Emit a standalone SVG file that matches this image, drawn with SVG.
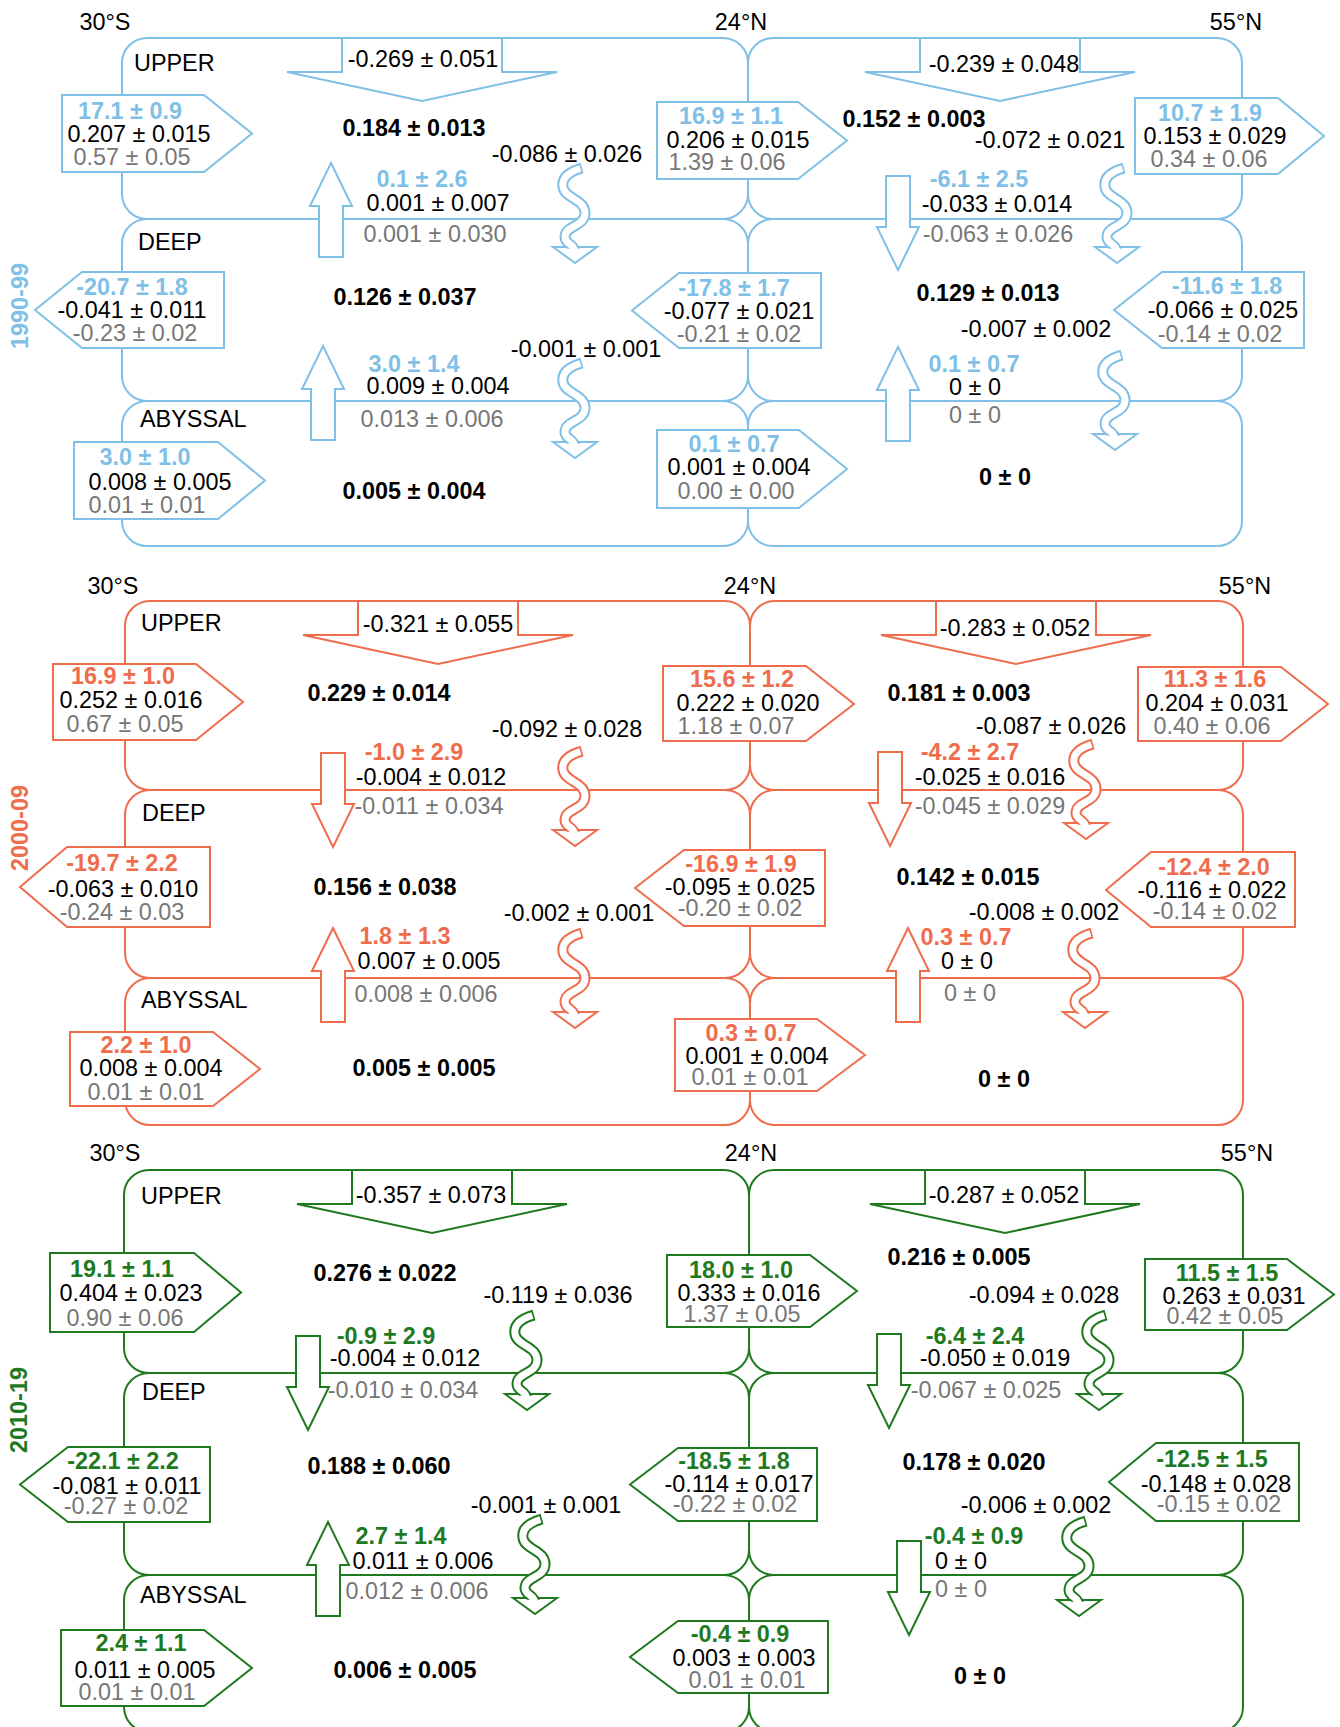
<svg xmlns="http://www.w3.org/2000/svg" xmlns:xlink="http://www.w3.org/1999/xlink" width="1340" height="1727" viewBox="0 0 1340 1727">
<style>
text{font-family:"Liberation Sans",Arial,Helvetica,sans-serif;font-size:23.4px;text-anchor:middle;fill:#000}
.l{text-anchor:start}
.b{font-weight:bold}
.g{fill:#777}
.k{fill:currentColor;font-weight:bold}
.p1{color:#80bfe6}
.p2{color:#ef6c4d}
.p3{color:#1f7a1f}
.cell{fill:none;stroke:currentColor;stroke-width:2}
.sh{fill:#fff;stroke:currentColor;stroke-width:2;stroke-linejoin:miter}
</style>
<defs>
<g id="sq">
<polygon points="-22,80 0,96 22,80" fill="#fff" stroke="currentColor" stroke-width="2"/>
<path d="M7,1 C0,3 -14,8 -12,20 C-10,32 10,32 10,46 C10,60 -10,58 -10,70 C-10,78 0,76 0,86" fill="none" stroke="currentColor" stroke-width="11"/>
<path d="M7,1 C0,3 -14,8 -12,20 C-10,32 10,32 10,46 C10,60 -10,58 -10,70 C-10,78 0,76 0,86" fill="none" stroke="#fff" stroke-width="7" pathLength="100" stroke-dasharray="0 1.6 200"/>
<polygon points="-17,81.8 0,93.6 17,81.8" fill="#fff"/>
</g>
<polygon id="au" points="0,0 21,43 12,43 12,94 -12,94 -12,43 -21,43" fill="#fff" stroke="currentColor" stroke-width="2"/>
<polygon id="ad" points="0,0 21,-43 12,-43 12,-94 -12,-94 -12,-43 -21,-43" fill="#fff" stroke="currentColor" stroke-width="2"/>
<polygon id="big" points="-80,0 -80,34 -135,34 0,63 135,34 80,34 80,0" fill="#fff" stroke="currentColor" stroke-width="2"/>
</defs>
<rect width="1340" height="1727" fill="#fff"/>

<!-- ================= PANEL 1 : 1990-99 ================= -->
<g id="panel1" class="p1">
<g id="p1-cells">
<rect class="cell" x="122" y="38" width="626" height="181" rx="25"/>
<rect class="cell" x="748" y="38" width="494" height="181" rx="25"/>
<rect class="cell" x="122" y="219" width="626" height="182" rx="25"/>
<rect class="cell" x="748" y="219" width="494" height="182" rx="25"/>
<rect class="cell" x="122" y="401" width="626" height="145" rx="25"/>
<rect class="cell" x="748" y="401" width="494" height="145" rx="25"/>
</g>
<g id="p1-labels">
<text x="105" y="30">30°S</text>
<text x="741" y="30">24°N</text>
<text x="1236" y="30">55°N</text>
<text class="l" x="134" y="71">UPPER</text>
<text class="l" x="138" y="250">DEEP</text>
<text class="l" x="140" y="427">ABYSSAL</text>
<text class="k" transform="translate(28,306) rotate(-90)">1990-99</text>
<text class="b" x="414" y="136">0.184 ± 0.013</text>
<text class="b" x="914" y="127">0.152 ± 0.003</text>
<text class="b" x="405" y="305">0.126 ± 0.037</text>
<text class="b" x="988" y="301">0.129 ± 0.013</text>
<text class="b" x="414" y="499">0.005 ± 0.004</text>
<text class="b" x="1005" y="485">0 ± 0</text>
</g>
<g id="p1-connectors">
<use xlink:href="#big" x="422" y="38"/>
<use xlink:href="#big" x="1000" y="38"/>
<use xlink:href="#au" x="331" y="163"/>
<use xlink:href="#ad" x="898" y="270"/>
<use xlink:href="#au" x="323" y="346"/>
<use xlink:href="#au" x="898" y="347"/>
<use xlink:href="#sq" x="575" y="167"/>
<use xlink:href="#sq" x="1117" y="167"/>
<use xlink:href="#sq" x="575" y="362"/>
<use xlink:href="#sq" x="1115" y="354"/>
<text x="423" y="67">-0.269 ± 0.051</text>
<text x="1004" y="72">-0.239 ± 0.048</text>
<text x="567" y="162">-0.086 ± 0.026</text>
<text x="1050" y="148">-0.072 ± 0.021</text>
<text x="586" y="357">-0.001 ± 0.001</text>
<text x="1036" y="337">-0.007 ± 0.002</text>
<text class="k" x="422" y="187">0.1 ± 2.6</text>
<text x="438" y="211">0.001 ± 0.007</text>
<text class="g" x="435" y="242">0.001 ± 0.030</text>
<text class="k" x="979" y="187">-6.1 ± 2.5</text>
<text x="997" y="212">-0.033 ± 0.014</text>
<text class="g" x="998" y="242">-0.063 ± 0.026</text>
<text class="k" x="414" y="372">3.0 ± 1.4</text>
<text x="438" y="394">0.009 ± 0.004</text>
<text class="g" x="432" y="427">0.013 ± 0.006</text>
<text class="k" x="974" y="372">0.1 ± 0.7</text>
<text x="975" y="395">0 ± 0</text>
<text class="g" x="975" y="423">0 ± 0</text>
</g>
<g id="p1-n1"><polygon class="sh" points="62,95 204,95 252,133.5 204,172 62,172"/>
<text class="k" x="130" y="119">17.1 ± 0.9</text><text x="139" y="142">0.207 ± 0.015</text><text class="g" x="132" y="165">0.57 ± 0.05</text></g>
<g id="p1-n2"><polygon class="sh" points="657,102 798,102 847,140.5 798,179 657,179"/>
<text class="k" x="731" y="124">16.9 ± 1.1</text><text x="738" y="148">0.206 ± 0.015</text><text class="g" x="727" y="170">1.39 ± 0.06</text></g>
<g id="p1-n3"><polygon class="sh" points="1135,98 1278,98 1324,136 1278,174 1135,174"/>
<text class="k" x="1210" y="121">10.7 ± 1.9</text><text x="1215" y="144">0.153 ± 0.029</text><text class="g" x="1209" y="167">0.34 ± 0.06</text></g>
<g id="p1-n4"><polygon class="sh" points="224,272 82,272 35,310 82,348 224,348"/>
<text class="k" x="132" y="295">-20.7 ± 1.8</text><text x="132" y="318">-0.041 ± 0.011</text><text class="g" x="135" y="341">-0.23 ± 0.02</text></g>
<g id="p1-n5"><polygon class="sh" points="821,273 679,273 632,310.5 679,348 821,348"/>
<text class="k" x="734" y="296">-17.8 ± 1.7</text><text x="739" y="319">-0.077 ± 0.021</text><text class="g" x="739" y="342">-0.21 ± 0.02</text></g>
<g id="p1-n6"><polygon class="sh" points="1304,272 1162,272 1114,310 1162,348 1304,348"/>
<text class="k" x="1227" y="294">-11.6 ± 1.8</text><text x="1223" y="318">-0.066 ± 0.025</text><text class="g" x="1220" y="342">-0.14 ± 0.02</text></g>
<g id="p1-n7"><polygon class="sh" points="74,442 218,442 265,480.5 218,519 74,519"/>
<text class="k" x="145" y="465">3.0 ± 1.0</text><text x="160" y="490">0.008 ± 0.005</text><text class="g" x="147" y="513">0.01 ± 0.01</text></g>
<g id="p1-n8"><polygon class="sh" points="657,430 799,430 847,469 799,508 657,508"/>
<text class="k" x="734" y="452">0.1 ± 0.7</text><text x="739" y="475">0.001 ± 0.004</text><text class="g" x="736" y="499">0.00 ± 0.00</text></g>
</g>

<!-- ================= PANEL 2 : 2000-09 ================= -->
<g id="panel2" class="p2">
<g id="p2-cells">
<rect class="cell" x="125" y="601" width="625" height="189" rx="25"/>
<rect class="cell" x="750" y="601" width="493" height="189" rx="25"/>
<rect class="cell" x="125" y="790" width="625" height="188" rx="25"/>
<rect class="cell" x="750" y="790" width="493" height="188" rx="25"/>
<rect class="cell" x="125" y="978" width="625" height="147" rx="25"/>
<rect class="cell" x="750" y="978" width="493" height="147" rx="25"/>
</g>
<g id="p2-labels">
<text x="113" y="594">30°S</text>
<text x="750" y="594">24°N</text>
<text x="1245" y="594">55°N</text>
<text class="l" x="141" y="631">UPPER</text>
<text class="l" x="142" y="821">DEEP</text>
<text class="l" x="141" y="1008">ABYSSAL</text>
<text class="k" transform="translate(28,828) rotate(-90)">2000-09</text>
<text class="b" x="379" y="701">0.229 ± 0.014</text>
<text class="b" x="959" y="701">0.181 ± 0.003</text>
<text class="b" x="385" y="895">0.156 ± 0.038</text>
<text class="b" x="968" y="885">0.142 ± 0.015</text>
<text class="b" x="424" y="1076">0.005 ± 0.005</text>
<text class="b" x="1004" y="1087">0 ± 0</text>
</g>
<g id="p2-connectors">
<use xlink:href="#big" x="438" y="601"/>
<use xlink:href="#big" x="1016" y="601"/>
<use xlink:href="#ad" x="333" y="847"/>
<use xlink:href="#au" x="333" y="928"/>
<use xlink:href="#ad" x="890" y="846"/>
<use xlink:href="#au" x="908" y="928"/>
<use xlink:href="#sq" x="575" y="750"/>
<use xlink:href="#sq" x="1086" y="743"/>
<use xlink:href="#sq" x="575" y="932"/>
<use xlink:href="#sq" x="1085" y="932"/>
<text x="438" y="632">-0.321 ± 0.055</text>
<text x="1015" y="636">-0.283 ± 0.052</text>
<text x="567" y="737">-0.092 ± 0.028</text>
<text x="1051" y="734">-0.087 ± 0.026</text>
<text x="579" y="921">-0.002 ± 0.001</text>
<text x="1044" y="920">-0.008 ± 0.002</text>
<text class="k" x="414" y="760">-1.0 ± 2.9</text>
<text x="431" y="785">-0.004 ± 0.012</text>
<text class="g" x="429" y="814">-0.011 ± 0.034</text>
<text class="k" x="405" y="944">1.8 ± 1.3</text>
<text x="429" y="969">0.007 ± 0.005</text>
<text class="g" x="426" y="1002">0.008 ± 0.006</text>
<text class="k" x="970" y="760">-4.2 ± 2.7</text>
<text x="990" y="785">-0.025 ± 0.016</text>
<text class="g" x="990" y="814">-0.045 ± 0.029</text>
<text class="k" x="966" y="945">0.3 ± 0.7</text>
<text x="967" y="969">0 ± 0</text>
<text class="g" x="970" y="1001">0 ± 0</text>
</g>
<g id="p2-n1"><polygon class="sh" points="53,664 196,664 243,702 196,740 53,740"/>
<text class="k" x="123" y="684">16.9 ± 1.0</text><text x="131" y="708">0.252 ± 0.016</text><text class="g" x="125" y="732">0.67 ± 0.05</text></g>
<g id="p2-n2"><polygon class="sh" points="663,666 806,666 854,704 806,741 663,741"/>
<text class="k" x="742" y="687">15.6 ± 1.2</text><text x="748" y="711">0.222 ± 0.020</text><text class="g" x="736" y="734">1.18 ± 0.07</text></g>
<g id="p2-n3"><polygon class="sh" points="1138,667 1281,667 1328,704 1281,741 1138,741"/>
<text class="k" x="1215" y="687">11.3 ± 1.6</text><text x="1217" y="711">0.204 ± 0.031</text><text class="g" x="1212" y="734">0.40 ± 0.06</text></g>
<g id="p2-n4"><polygon class="sh" points="210,847 67,847 20,887 67,927 210,927"/>
<text class="k" x="122" y="871">-19.7 ± 2.2</text><text x="123" y="897">-0.063 ± 0.010</text><text class="g" x="122" y="920">-0.24 ± 0.03</text></g>
<g id="p2-n5"><polygon class="sh" points="825,850 684,850 635,888 684,926 825,926"/>
<text class="k" x="741" y="872">-16.9 ± 1.9</text><text x="740" y="895">-0.095 ± 0.025</text><text class="g" x="740" y="916">-0.20 ± 0.02</text></g>
<g id="p2-n6"><polygon class="sh" points="1295,852 1151,852 1106,890 1151,927 1295,927"/>
<text class="k" x="1214" y="875">-12.4 ± 2.0</text><text x="1212" y="898">-0.116 ± 0.022</text><text class="g" x="1215" y="919">-0.14 ± 0.02</text></g>
<g id="p2-n7"><polygon class="sh" points="70,1032 213,1032 260,1069 213,1106 70,1106"/>
<text class="k" x="146" y="1053">2.2 ± 1.0</text><text x="151" y="1076">0.008 ± 0.004</text><text class="g" x="146" y="1100">0.01 ± 0.01</text></g>
<g id="p2-n8"><polygon class="sh" points="675,1019 817,1019 865,1055 817,1091 675,1091"/>
<text class="k" x="751" y="1041">0.3 ± 0.7</text><text x="757" y="1064">0.001 ± 0.004</text><text class="g" x="750" y="1085">0.01 ± 0.01</text></g>
</g>

<!-- ================= PANEL 3 : 2010-19 ================= -->
<g id="panel3" class="p3">
<g id="p3-cells">
<rect class="cell" x="124" y="1170" width="625" height="203" rx="25"/>
<rect class="cell" x="749" y="1170" width="494" height="203" rx="25"/>
<rect class="cell" x="124" y="1373" width="625" height="202" rx="25"/>
<rect class="cell" x="749" y="1373" width="494" height="202" rx="25"/>
<rect class="cell" x="124" y="1575" width="625" height="157" rx="25"/>
<rect class="cell" x="749" y="1575" width="494" height="157" rx="25"/>
</g>
<g id="p3-labels">
<text x="115" y="1161">30°S</text>
<text x="751" y="1161">24°N</text>
<text x="1247" y="1161">55°N</text>
<text class="l" x="141" y="1204">UPPER</text>
<text class="l" x="142" y="1400">DEEP</text>
<text class="l" x="140" y="1603">ABYSSAL</text>
<text class="k" transform="translate(27,1410) rotate(-90)">2010-19</text>
<text class="b" x="385" y="1281">0.276 ± 0.022</text>
<text class="b" x="959" y="1265">0.216 ± 0.005</text>
<text class="b" x="379" y="1474">0.188 ± 0.060</text>
<text class="b" x="974" y="1470">0.178 ± 0.020</text>
<text class="b" x="405" y="1678">0.006 ± 0.005</text>
<text class="b" x="980" y="1684">0 ± 0</text>
</g>
<g id="p3-connectors">
<use xlink:href="#big" x="432" y="1170"/>
<use xlink:href="#big" x="1005" y="1170"/>
<use xlink:href="#ad" x="308" y="1430"/>
<use xlink:href="#au" x="328" y="1522"/>
<use xlink:href="#ad" x="889" y="1428"/>
<use xlink:href="#ad" x="909" y="1635"/>
<use xlink:href="#sq" x="527" y="1314"/>
<use xlink:href="#sq" x="1099" y="1314"/>
<use xlink:href="#sq" x="535" y="1518"/>
<use xlink:href="#sq" x="1079" y="1520"/>
<text x="431" y="1203">-0.357 ± 0.073</text>
<text x="1004" y="1203">-0.287 ± 0.052</text>
<text x="558" y="1303">-0.119 ± 0.036</text>
<text x="1044" y="1303">-0.094 ± 0.028</text>
<text x="546" y="1513">-0.001 ± 0.001</text>
<text x="1036" y="1513">-0.006 ± 0.002</text>
<text class="k" x="386" y="1344">-0.9 ± 2.9</text>
<text x="405" y="1366">-0.004 ± 0.012</text>
<text class="g" x="403" y="1398">-0.010 ± 0.034</text>
<text class="k" x="401" y="1544">2.7 ± 1.4</text>
<text x="423" y="1569">0.011 ± 0.006</text>
<text class="g" x="417" y="1599">0.012 ± 0.006</text>
<text class="k" x="975" y="1344">-6.4 ± 2.4</text>
<text x="995" y="1366">-0.050 ± 0.019</text>
<text class="g" x="986" y="1398">-0.067 ± 0.025</text>
<text class="k" x="974" y="1544">-0.4 ± 0.9</text>
<text x="961" y="1569">0 ± 0</text>
<text class="g" x="961" y="1597">0 ± 0</text>
</g>
<g id="p3-n1"><polygon class="sh" points="50,1253 194,1253 241,1292.5 194,1332 50,1332"/>
<text class="k" x="122" y="1277">19.1 ± 1.1</text><text x="131" y="1301">0.404 ± 0.023</text><text class="g" x="125" y="1326">0.90 ± 0.06</text></g>
<g id="p3-n2"><polygon class="sh" points="667,1255 810,1255 857,1291 810,1327 667,1327"/>
<text class="k" x="741" y="1278">18.0 ± 1.0</text><text x="749" y="1301">0.333 ± 0.016</text><text class="g" x="742" y="1322">1.37 ± 0.05</text></g>
<g id="p3-n3"><polygon class="sh" points="1145,1259 1287,1259 1334,1294.5 1287,1330 1145,1330"/>
<text class="k" x="1227" y="1281">11.5 ± 1.5</text><text x="1234" y="1304">0.263 ± 0.031</text><text class="g" x="1225" y="1324">0.42 ± 0.05</text></g>
<g id="p3-n4"><polygon class="sh" points="210,1447 68,1447 20,1484.5 68,1522 210,1522"/>
<text class="k" x="123" y="1469">-22.1 ± 2.2</text><text x="127" y="1494">-0.081 ± 0.011</text><text class="g" x="126" y="1514">-0.27 ± 0.02</text></g>
<g id="p3-n5"><polygon class="sh" points="817,1448 678,1448 630,1484.5 678,1521 817,1521"/>
<text class="k" x="734" y="1469">-18.5 ± 1.8</text><text x="739" y="1492">-0.114 ± 0.017</text><text class="g" x="735" y="1512">-0.22 ± 0.02</text></g>
<g id="p3-n6"><polygon class="sh" points="1299,1443 1156,1443 1109,1482 1156,1521 1299,1521"/>
<text class="k" x="1212" y="1467">-12.5 ± 1.5</text><text x="1216" y="1492">-0.148 ± 0.028</text><text class="g" x="1219" y="1512">-0.15 ± 0.02</text></g>
<g id="p3-n7"><polygon class="sh" points="61,1630 204,1630 252,1668 204,1706 61,1706"/>
<text class="k" x="141" y="1651">2.4 ± 1.1</text><text x="145" y="1678">0.011 ± 0.005</text><text class="g" x="137" y="1700">0.01 ± 0.01</text></g>
<g id="p3-n8"><polygon class="sh" points="828,1621 678,1621 630,1657 678,1693 828,1693"/>
<text class="k" x="740" y="1642">-0.4 ± 0.9</text><text x="744" y="1666">0.003 ± 0.003</text><text class="g" x="747" y="1688">0.01 ± 0.01</text></g>
</g>
</svg>
